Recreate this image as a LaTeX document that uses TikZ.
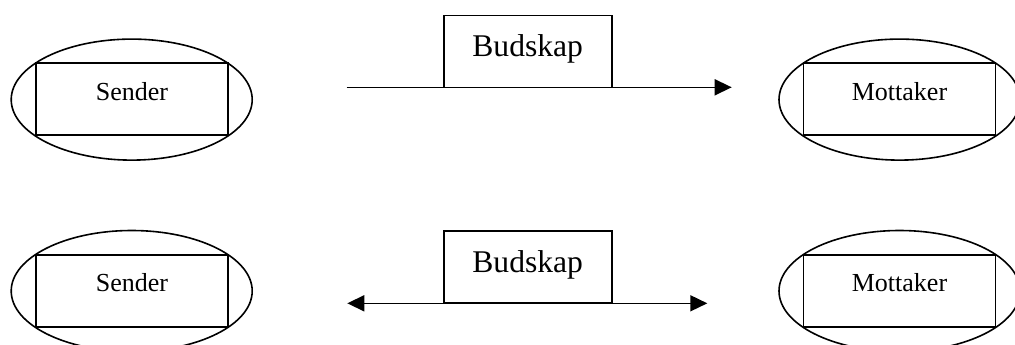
\documentclass[tikz,border=0pt]{standalone}
\usepackage{fontspec}
\setmainfont{Liberation Serif}
\usetikzlibrary{shapes.geometric,arrows.meta}
\begin{document}
\begin{tikzpicture}[x=0.5pt,y=-0.5pt,
  line width=0.8pt,
  >={Triangle[length=8.5pt,width=8pt]},
  oval/.style={draw,ellipse,inner sep=0pt,minimum width=120.5pt,minimum height=60.5pt},
  party/.style={draw,fill=white,inner sep=0pt,minimum width=96pt,minimum height=36pt},
  msgbox/.style={draw,fill=white,inner sep=0pt,minimum width=84pt,minimum height=36pt},
  small/.style={font=\fontsize{13}{15}\selectfont,anchor=base,inner sep=0pt},
  big/.style={font=\fontsize{15.8}{18}\selectfont,anchor=base,inner sep=0pt}]
\clip (0,0) rectangle (1015,344);
% top row
\node[oval] (e1) at (131.7,99.6) {};
\node[party] (r1) at (132,99.2) {};
\node[small] (t1) at (132,100) {Sender};
\node[oval] (e2) at (899.5,99.6) {};
\node[party] (r2) at (899.5,99.2) {};
\node[small] (t2) at (899.5,100) {Mottaker};
\coordinate (a1) at (346.7,87.3);
\coordinate (b1) at (731.7,87.3);
\draw[->] (a1) -- (b1);
\node[msgbox] (m1) at (527.7,51.3) {};
\node[big] (mt1) at (527.7,56.5) {Budskap};
% bottom row
\node[oval] (e3) at (131.7,291) {};
\node[party] (r3) at (132,290.8) {};
\node[small] (t3) at (132,291.7) {Sender};
\node[oval] (e4) at (899.5,291) {};
\node[party] (r4) at (899.5,290.8) {};
\node[small] (t4) at (899.5,291.7) {Mottaker};
\coordinate (a2) at (347.3,303.3);
\coordinate (b2) at (707.3,303.3);
\draw[<->] (a2) -- (b2);
\node[msgbox] (m2) at (527.7,267) {};
\node[big] (mt2) at (527.7,272.5) {Budskap};
\end{tikzpicture}
\end{document}
